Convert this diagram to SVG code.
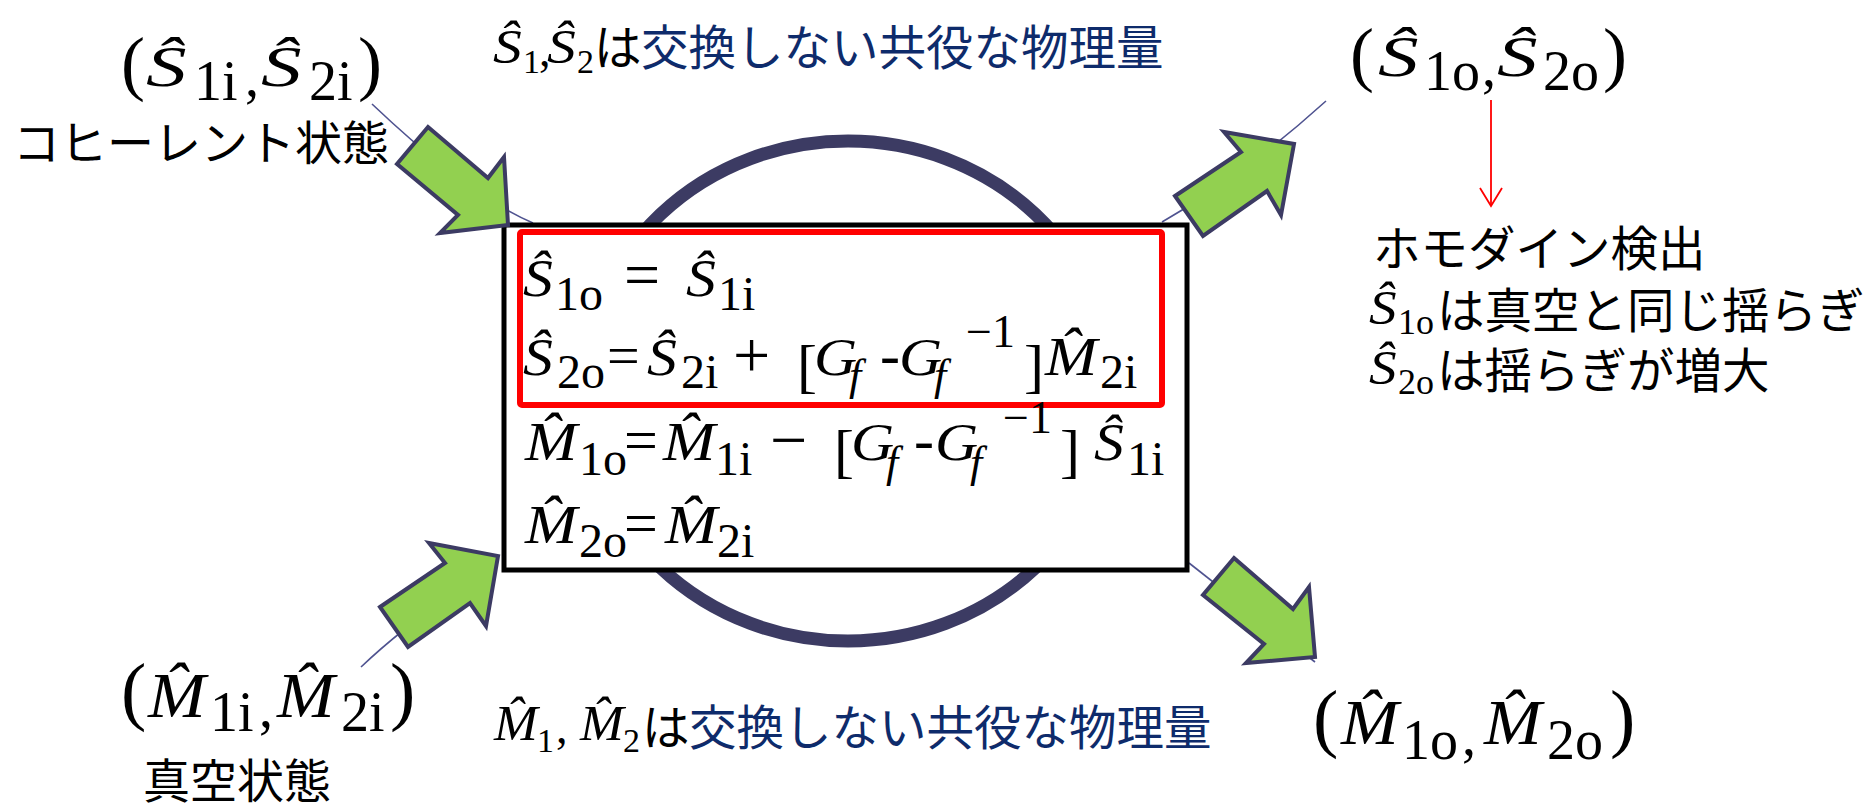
<svg xmlns="http://www.w3.org/2000/svg" width="1870" height="807" viewBox="0 0 1870 807">
<style>
.m{font-family:'Liberation Serif','DejaVu Serif',serif;fill:#000}
.i{font-style:italic}
.j{font-family:'Noto Sans CJK JP','Noto Sans CJK SC',sans-serif;fill:#000}
.b{fill:#0E2B6B}
.thin{stroke:#4F5390;stroke-width:1.6;fill:none}
.blk{fill:#92D050;stroke:#3C3B63;stroke-width:4;stroke-linejoin:miter}
</style>
<defs>
<marker id="ra" viewBox="-22 -13 24 26" refX="0" refY="0" markerWidth="24" markerHeight="26" markerUnits="userSpaceOnUse" orient="auto">
<path d="M-18,-11 L0,0 L-18,11" fill="none" stroke="#FF0000" stroke-width="1.8"/>
</marker>
</defs>
<rect width="1870" height="807" fill="#fff"/>

<g id="connectors">
<path class="thin" d="M372,104 Q469,196 533,223"/>
<path class="thin" d="M1162,222 Q1243,176 1326,101"/>
<path class="thin" d="M361,667 Q400,630 455,592"/>
<path class="thin" d="M1189,563 L1315,662"/>
<line x1="1491" y1="100" x2="1491" y2="206" stroke="#FF0000" stroke-width="1.8" marker-end="url(#ra)"/>
</g>

<g id="ring">
<ellipse cx="848" cy="391" rx="265" ry="250" fill="none" stroke="#3C3B63" stroke-width="13"/>
</g>

<g id="equations-box">
<rect x="504" y="225" width="683" height="345" fill="#fff" stroke="#000" stroke-width="5"/>
<rect x="520" y="232" width="642" height="173" fill="none" stroke="#FF0000" stroke-width="6" rx="2"/>
<g class="m i" font-size="52">
<text transform="translate(523,296) scale(1.15,1)">Ŝ</text>
<text transform="translate(686,296) scale(1.15,1)">Ŝ</text>
<text transform="translate(523,375) scale(1.15,1)">Ŝ</text>
<text transform="translate(647,375) scale(1.15,1)">Ŝ</text>
<text transform="translate(814,375) scale(1.15,1)">G</text>
<text transform="translate(899,375) scale(1.15,1)">G</text>
<text transform="translate(1045,375) scale(1.12,1)" font-size="56">M&#x302;</text>
<text transform="translate(525,460) scale(1.12,1)" font-size="56">M&#x302;</text>
<text transform="translate(663,460) scale(1.12,1)" font-size="56">M&#x302;</text>
<text transform="translate(851,460) scale(1.15,1)">G</text>
<text transform="translate(935,460) scale(1.15,1)">G</text>
<text transform="translate(1094,460) scale(1.15,1)">Ŝ</text>
<text transform="translate(525,543) scale(1.12,1)" font-size="56">M&#x302;</text>
<text transform="translate(665,543) scale(1.12,1)" font-size="56">M&#x302;</text>
</g>
<text class="m" font-size="48">
<tspan x="555" y="310">1o</tspan><tspan x="624" y="296" font-size="64">=</tspan><tspan x="718" y="310">1i</tspan>
</text>
<text class="m" font-size="48">
<tspan x="557" y="388">2o</tspan><tspan x="607" y="375" font-size="58">=</tspan><tspan x="681" y="388">2i</tspan><tspan x="733" y="377" font-size="66">+</tspan><tspan x="797" y="386" font-size="60">[</tspan><tspan x="849" y="390" class="i" font-size="44">f</tspan><tspan x="880" y="375" font-size="60">-</tspan><tspan x="934" y="390" class="i" font-size="44">f</tspan><tspan x="966" y="347" font-size="46">−1</tspan><tspan x="1024" y="386" font-size="60">]</tspan><tspan x="1100" y="388">2i</tspan>
</text>
<text class="m" font-size="48">
<tspan x="579" y="475">1o</tspan><tspan x="624" y="460" font-size="60">=</tspan><tspan x="715" y="475">1i</tspan><tspan x="770" y="462" font-size="66">−</tspan><tspan x="834" y="471" font-size="60">[</tspan><tspan x="886" y="477" class="i" font-size="44">f</tspan><tspan x="914" y="460" font-size="60">-</tspan><tspan x="970" y="477" class="i" font-size="44">f</tspan><tspan x="1003" y="433" font-size="46">−1</tspan><tspan x="1060" y="471" font-size="60">]</tspan><tspan x="1127" y="475">1i</tspan>
</text>
<text class="m" font-size="48">
<tspan x="579" y="557">2o</tspan><tspan x="624" y="543" font-size="60">=</tspan><tspan x="717" y="557">2i</tspan>
</text>
</g>

<g id="block-arrows">
<polygon class="blk" points="428,127 488,178 504,157 508,225 440,233 458,215 397,164"/>
<polygon class="blk" points="1175,196 1241,152 1224,132 1294,144 1281,215 1267,191 1203,236"/>
<polygon class="blk" points="380,607 445,563 429,543 498,556 486,626 470,603 408,647"/>
<polygon class="blk" points="1234,558 1293,609 1309,587 1315,657 1246,663 1264,644 1203,595"/>
</g>

<g id="input-S">
<text class="m i" font-size="58" transform="translate(146,86) scale(1.4,1)">Ŝ</text>
<text class="m i" font-size="58" transform="translate(261,86) scale(1.4,1)">Ŝ</text>
<text class="m" font-size="56">
<tspan x="121" y="87" font-size="72">(</tspan><tspan x="194" y="100">1i</tspan><tspan x="245" y="96">,</tspan><tspan x="309" y="100">2i</tspan><tspan x="358" y="87" font-size="72">)</tspan>
</text>
<text class="j" x="13" y="160" font-size="47">コヒーレント状態</text>
</g>

<g id="input-M">
<text class="m i" font-size="64" transform="translate(148,717) scale(1.08,1)">M&#x302;</text>
<text class="m i" font-size="64" transform="translate(277,717) scale(1.08,1)">M&#x302;</text>
<text class="m" font-size="56">
<tspan x="121" y="716" font-size="76">(</tspan><tspan x="210" y="731">1i</tspan><tspan x="259" y="727">,</tspan><tspan x="341" y="731">2i</tspan><tspan x="390" y="716" font-size="76">)</tspan>
</text>
<text class="j" x="143" y="798" font-size="47">真空状態</text>
</g>

<g id="output-S">
<text class="m i" font-size="58" transform="translate(1378,76) scale(1.4,1)">Ŝ</text>
<text class="m i" font-size="58" transform="translate(1497,76) scale(1.4,1)">Ŝ</text>
<text class="m" font-size="56">
<tspan x="1350" y="78" font-size="72">(</tspan><tspan x="1424" y="90">1o</tspan><tspan x="1482" y="86">,</tspan><tspan x="1543" y="90">2o</tspan><tspan x="1603" y="78" font-size="72">)</tspan>
</text>
</g>

<g id="output-M">
<text class="m i" font-size="64" transform="translate(1341,744) scale(1.08,1)">M&#x302;</text>
<text class="m i" font-size="64" transform="translate(1484,744) scale(1.08,1)">M&#x302;</text>
<text class="m" font-size="56">
<tspan x="1313" y="743" font-size="76">(</tspan><tspan x="1402" y="759">1o</tspan><tspan x="1462" y="755">,</tspan><tspan x="1547" y="759">2o</tspan><tspan x="1610" y="743" font-size="76">)</tspan>
</text>
</g>

<g id="note-S">
<text class="m i" font-size="48" transform="translate(493,63) scale(1.2,1)">Ŝ</text>
<text class="m i" font-size="48" transform="translate(547,63) scale(1.2,1)">Ŝ</text>
<text font-size="47.5"><tspan class="m" x="523" y="73" font-size="34">1</tspan><tspan class="m" x="539" y="66" font-size="46">,</tspan><tspan class="m" x="577" y="73" font-size="34">2</tspan><tspan class="j" x="594" y="65">は</tspan><tspan class="j b" x="641" y="65">交換しない共役な物理量</tspan></text>
</g>

<g id="note-M">
<text class="m i" font-size="50" transform="translate(494,740) scale(1.05,1)">M&#x302;</text>
<text class="m i" font-size="50" transform="translate(580,740) scale(1.05,1)">M&#x302;</text>
<text font-size="47.5"><tspan class="m" x="537" y="752" font-size="34">1</tspan><tspan class="m" x="556" y="743" font-size="46">,</tspan><tspan class="m" x="623" y="752" font-size="34">2</tspan><tspan class="j" x="642" y="745">は</tspan><tspan class="j b" x="689" y="745">交換しない共役な物理量</tspan></text>
</g>

<g id="homodyne-note">
<text class="j" x="1373" y="266" font-size="47.5">ホモダイン検出</text>
<text class="m i" font-size="48" transform="translate(1369,324) scale(1.15,1)">Ŝ</text>
<text class="m i" font-size="48" transform="translate(1369,384) scale(1.15,1)">Ŝ</text>
<text font-size="47.5"><tspan class="m" x="1398" y="334" font-size="36">1o</tspan><tspan class="j" x="1437" y="328">は真空と同じ揺らぎ</tspan></text>
<text font-size="47.5"><tspan class="m" x="1398" y="394" font-size="36">2o</tspan><tspan class="j" x="1437" y="388">は揺らぎが増大</tspan></text>
</g>
</svg>
